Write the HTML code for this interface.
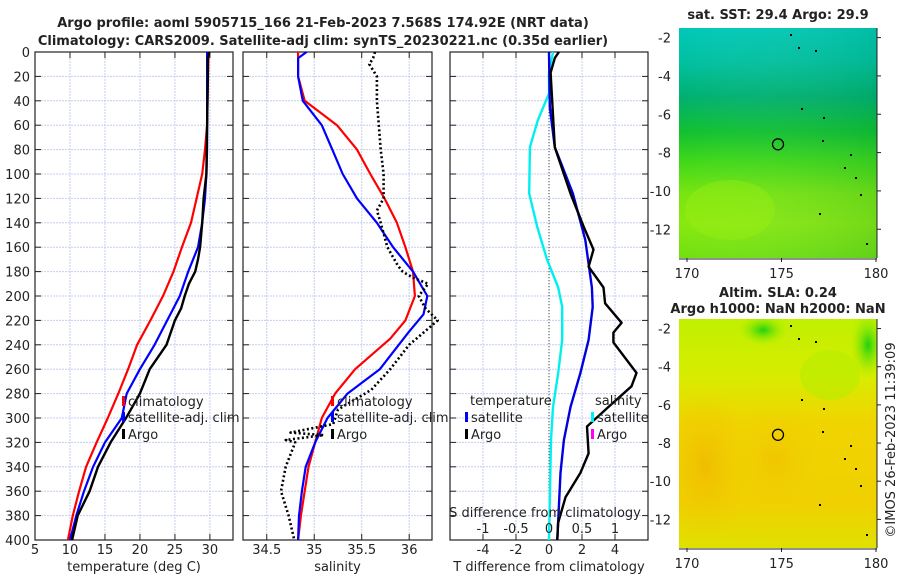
<!DOCTYPE html>
<html><head><meta charset="utf-8"><style>
body{margin:0;background:#fff;}
svg{display:block;font-family:"DejaVu Sans","Liberation Sans",sans-serif;}
</style></head><body>
<svg id="c" width="900" height="580" xmlns="http://www.w3.org/2000/svg">
<defs>
<linearGradient id="sstg" x1="0" y1="0" x2="0" y2="1">
<stop offset="0" stop-color="#00c8b8"/><stop offset="0.15" stop-color="#00c0a0"/><stop offset="0.3" stop-color="#00b070"/><stop offset="0.45" stop-color="#10c030"/><stop offset="0.58" stop-color="#40d818"/><stop offset="0.72" stop-color="#78e410"/><stop offset="0.85" stop-color="#88e810"/><stop offset="1" stop-color="#70e010"/>
</linearGradient>
<linearGradient id="sstg2" x1="0" y1="0" x2="1" y2="0">
<stop offset="0" stop-color="#fff" stop-opacity="0"/><stop offset="1" stop-color="#008040" stop-opacity="0.15"/>
</linearGradient>
<linearGradient id="slag" x1="0" y1="0" x2="0" y2="1">
<stop offset="0" stop-color="#c0f000"/><stop offset="0.25" stop-color="#d8ec00"/><stop offset="0.45" stop-color="#f0d400"/><stop offset="0.8" stop-color="#f0d000"/><stop offset="1" stop-color="#e0e000"/>
</linearGradient>
<radialGradient id="orng" cx="0.5" cy="0.5" r="0.5"><stop offset="0" stop-color="#f0b400"/><stop offset="1" stop-color="#f0c800" stop-opacity="0"/></radialGradient>
<radialGradient id="grn" cx="0.5" cy="0.5" r="0.5"><stop offset="0" stop-color="#20d010"/><stop offset="1" stop-color="#a0f000" stop-opacity="0"/></radialGradient>
<clipPath id="clipTop"><rect x="679" y="28" width="198" height="230"/></clipPath>
<clipPath id="clipBot"><rect x="679" y="319" width="198" height="229"/></clipPath>
</defs>
<g id="root"></g>
</svg>
<script>
// ---- data ----
var depthTicks=[0,20,40,60,80,100,120,140,160,180,200,220,240,260,280,300,320,340,360,380,400];
var tTicks=[5,10,15,20,25,30];
var sTicks=[34.5,35,35.5,36];
var dTTicks=[-4,-2,0,2,4];
var dSTicks=[-1,-0.5,0,0.5,1];
// temperature
var tClimD=[0,60,80,100,120,140,160,180,200,220,240,260,280,300,320,340,360,380,400];
var tClimV=[29.8,29.6,29.3,28.9,28.1,27.3,26.0,24.8,23.3,21.5,19.6,18.3,16.9,15.4,13.8,12.3,11.3,10.4,9.7];
var tSatD=[0,80,100,120,140,160,180,200,220,240,260,280,300,320,340,360,380,400];
var tSatV=[29.6,29.6,29.5,29.3,28.9,28.3,26.9,25.7,23.9,22.1,20.0,18.1,17.4,15.0,13.3,12.0,10.9,10.0];
var tArgoD=[0,5,20,60,100,110,120,140,160,170,180,190,200,210,220,230,240,260,280,290,300,320,340,360,380,400];
var tArgoV=[29.9,29.7,29.7,29.6,29.5,29.3,29.1,28.9,28.6,28.3,27.9,27.0,26.4,25.9,25.0,24.4,23.8,21.4,20.0,19.0,18.0,15.8,14.0,12.8,11.1,10.3];
// salinity
var sClimD=[0,20,40,60,80,100,120,140,160,180,200,220,235,260,280,300,320,340,360,380,400];
var sClimV=[34.83,34.83,34.9,35.24,35.45,35.59,35.74,35.87,35.96,36.04,36.06,35.96,35.8,35.43,35.22,35.08,35.01,34.94,34.9,34.86,34.83];
var sSatD=[0,5,20,40,60,80,100,120,140,160,180,200,215,230,260,280,300,320,340,360,380,400];
var sSatV=[34.92,34.83,34.83,34.88,35.08,35.19,35.3,35.45,35.66,35.83,36.04,36.19,36.15,35.99,35.69,35.35,35.14,35.01,34.91,34.87,34.84,34.83];
var sArgoD=[0,5,10,20,40,80,100,120,130,140,160,175,180,185,190,200,210,220,230,240,260,277,293,305,312,314,318,320,340,360,380,400];
var sArgoV=[35.64,35.62,35.58,35.66,35.66,35.7,35.73,35.73,35.66,35.7,35.77,35.88,35.93,36.04,36.2,36.1,36.17,36.3,36.15,36.0,35.8,35.6,35.25,35.2,34.75,35.1,34.7,34.8,34.7,34.65,34.73,34.79];
// differences
var dTSatD=[0,45,78,116,154,193,209,236,263,291,318,345,386,400];
var dTSatV=[0,0.05,0.35,1.45,2.2,2.6,2.65,2.4,1.9,1.3,0.9,0.7,0.55,0.5];
var dTArgoD=[0,5,17,78,116,143,162,176,193,206,222,230,238,263,274,291,307,329,345,365,386,400];
var dTArgoV=[0.6,0.35,0.1,0.35,1.3,2.1,2.7,2.4,3.3,3.4,4.4,3.9,3.9,5.3,5.0,3.6,2.3,2.4,1.9,1.0,0.55,0.5];
var dSSatD=[0,17,34,56,78,116,143,170,193,209,236,263,291,318,372,400];
var dSSatV=[0.06,0,0,-0.17,-0.29,-0.3,-0.18,-0.03,0.14,0.2,0.2,0.14,0.06,0.03,0.01,0];

// ---- helpers ----
var NS="http://www.w3.org/2000/svg",root=document.getElementById('root');
function mk(t,a,p){var e=document.createElementNS(NS,t);for(var k in a)e.setAttribute(k,a[k]);(p||root).appendChild(e);return e;}
function yD(d){return 52+d*1.22;}
function txt(x,y,s,anchor,size,weight,p){var e=mk('text',{x:x,y:y,'text-anchor':anchor||'middle','font-size':size||13,'font-weight':weight||'normal',fill:'#222'},p);e.textContent=s;return e;}
var panels=[
 {name:'temperature-panel',x0:35,x1:233,v0:5,v1:33.3},
 {name:'salinity-panel',x0:243,x1:432,v0:34.25,v1:36.24},
 {name:'difference-panel',x0:450,x1:648,v0:-6,v1:6}
];
function xs(p,v){return p.x0+(v-p.v0)/(p.v1-p.v0)*(p.x1-p.x0);}
function drawAxes(p,ticks,lbl,yLabels){
 var g=mk('g',{});
 
 
 depthTicks.forEach(function(d){var y=yD(d);
  if(d>0&&d<400){var gl=mk('line',{x1:p.x0,x2:p.x1,y1:y,y2:y,stroke:'#c4cdee','stroke-dasharray':'2,1','stroke-width':1},g);}
  mk('line',{x1:p.x0,x2:p.x0+6,y1:y,y2:y,stroke:'#222'},g);mk('line',{x1:p.x1-6,x2:p.x1,y1:y,y2:y,stroke:'#222'},g);
  if(yLabels){var t=txt(30,y+5,String(d),'end',13,'normal',g);}
 });
 ticks.forEach(function(v){var x=xs(p,v);
  mk('line',{x1:x,x2:x,y1:52,y2:540,stroke:'#c4cdee','stroke-dasharray':'2,1'},g);
  mk('line',{x1:x,x2:x,y1:540,y2:534,stroke:'#222'},g);mk('line',{x1:x,x2:x,y1:52,y2:58,stroke:'#222'},g);
  var t=txt(x,554,String(v),'middle',13,'normal',g);
 });
 var r=mk('rect',{x:p.x0,y:52,width:p.x1-p.x0,height:488,fill:'none',stroke:'#222','stroke-width':1.2},g);
 
 var t=txt((p.x0+p.x1)/2,571,lbl,'middle',13,'normal',g);
 return g;
}
function line(p,D,V,col,w,dash,name,scale){
 var pts=D.map(function(d,i){return xs(p,V[i]*(scale||1)).toFixed(1)+','+yD(d).toFixed(1);}).join(' ');
 var e=mk('polyline',{points:pts,fill:'none',stroke:col,'stroke-width':w,'stroke-linejoin':'round'});
 if(dash)e.setAttribute('stroke-dasharray',dash);
 
 
}
// titles
var t1=txt(323,27,'Argo profile: aoml 5905715_166 21-Feb-2023 7.568S 174.92E (NRT data)','middle',13,'bold');

var t2=txt(323,45,'Climatology: CARS2009. Satellite-adj clim: synTS_20230221.nc (0.35d earlier)','middle',13,'bold');


drawAxes(panels[0],tTicks,'temperature (deg C)',true);
drawAxes(panels[1],sTicks,'salinity',false);
drawAxes(panels[2],dTTicks,'T difference from climatology',false);

line(panels[0],tClimD,tClimV,'#f00',2.2,null,'temp-climatology-line');
line(panels[0],tSatD,tSatV,'#00f',2.2,null,'temp-satellite-line');
line(panels[0],tArgoD,tArgoV,'#000',2.4,null,'temp-argo-line');
line(panels[1],sClimD,sClimV,'#f00',2.2,null,'sal-climatology-line');
line(panels[1],sSatD,sSatV,'#00f',2.2,null,'sal-satellite-line');
line(panels[1],sArgoD,sArgoV,'#000',2.6,'2,2.5','sal-argo-line');
// zero line in diff panel
var z=mk('line',{x1:xs(panels[2],0),x2:xs(panels[2],0),y1:52,y2:540,stroke:'#444','stroke-dasharray':'1,2'});

line(panels[2],dSSatD,dSSatV,'#00f0f0',2.4,null,'sal-diff-satellite-line',4);
line(panels[2],dTSatD,dTSatV,'#0000e0',2.4,null,'temp-diff-satellite-line');
line(panels[2],dTArgoD,dTArgoV,'#000',2.4,null,'temp-diff-argo-line');
// S axis inside diff panel
var sl=txt(545,517,'S difference from climatology','middle',13);

dSTicks.forEach(function(v){var x=xs(panels[2],v*4);var t=txt(x,533,String(v),'middle',13);});

// legends
function leg(x,y,col,label,name){var g=mk('g',{});
 mk('rect',{x:x,y:y-10,width:3,height:10,fill:col},g);txt(x+6,y,label,'start',13,'normal',g);}
leg(122,406,'#f00','climatology','legend-climatology');
leg(122,422,'#00f','satellite-adj. clim','legend-satellite');
leg(122,439,'#000','Argo','legend-argo');
leg(331,406,'#f00','climatology','legend-sal-climatology');
leg(331,422,'#00f','satellite-adj. clim','legend-sal-satellite');
leg(331,439,'#000','Argo','legend-sal-argo');
var lt=txt(470,405,'temperature','start',13);
var ls=txt(595,405,'salinity','start',13);
leg(465,422,'#00f','satellite','legend-t-satellite');
leg(465,439,'#000','Argo','legend-t-argo');
leg(591,422,'#00f0f0','satellite','legend-s-satellite');
leg(591,439,'#f0f','Argo','legend-s-argo');

// maps
function map(y0,y1,fill,name,clip,title,extra){
 var g=mk('g',{});
 var cg=mk('g',{'clip-path':'url(#'+clip+')'},g);
 mk('rect',{x:679,y:y0,width:198,height:y1-y0,fill:fill},cg);
 extra(cg);
 var lat0=-1.5,lat1=-13.5;
 [-2,-4,-6,-8,-10,-12].forEach(function(v){var y=y0+(v-lat0)/(lat1-lat0)*(y1-y0);
  mk('line',{x1:877,x2:881,y1:y,y2:y,stroke:'#222'},g);
  var t=txt(671,y+5,String(v),'end',13,'normal',g);});
 [170,175,180].forEach(function(v){var x=687+(v-170)*18.9;
  mk('line',{x1:x,x2:x,y1:y1,y2:y1+4,stroke:'#222'},g);
  var t=txt(x,y1+20,String(v),'middle',13,'normal',g);});
 mk('line',{x1:679,x2:877,y1:y1+1,y2:y1+1,stroke:'#222'},g);
 mk('line',{x1:877,x2:877,y1:y0,y2:y1,stroke:'#222'},g);
 var c=mk('circle',{cx:778,cy:y0+(-7.568+1.5)/(-12)*(y1-y0),r:5.5,fill:'none',stroke:'#000','stroke-width':1.3},g);
 
 [[790,34],[798,47],[815,50],[801,108],[823,117],[822,140],[850,154],[844,167],[855,177],[860,194],[819,213],[866,243]].forEach(function(q){mk('rect',{x:q[0],y:y0+(q[1]-28),width:2,height:2,fill:'#000'},g);});
 title(g);
}
map(28,258,'url(#sstg)','sst-map','clipTop',function(g){var t=txt(778,19,'sat. SST: 29.4 Argo: 29.9','middle',13,'bold',g);},
 function(g){mk('rect',{x:679,y:28,width:198,height:230,fill:'url(#sstg2)'},g);
  mk('ellipse',{cx:730,cy:210,rx:45,ry:30,fill:'#a0f010',opacity:0.35},g);});
map(319,548,'url(#slag)','sla-map','clipBot',function(g){
  var t=txt(778,297,'Altim. SLA: 0.24','middle',13,'bold',g);
  var t2=txt(778,313,'Argo h1000: NaN h2000: NaN','middle',13,'bold',g);},
 function(g){mk('ellipse',{cx:705,cy:465,rx:45,ry:75,fill:'url(#orng)',opacity:0.7},g);
  mk('ellipse',{cx:775,cy:460,rx:45,ry:55,fill:'url(#orng)',opacity:0.4},g);
  mk('ellipse',{cx:763,cy:330,rx:25,ry:16,fill:'url(#grn)'},g);
  mk('ellipse',{cx:868,cy:345,rx:18,ry:35,fill:'url(#grn)'},g);
  mk('ellipse',{cx:830,cy:375,rx:30,ry:25,fill:'#b0ee00',opacity:0.5},g);});
var cp=mk('text',{x:0,y:0,transform:'translate(895,440) rotate(-90)','text-anchor':'middle','font-size':13,fill:'#222'});
cp.textContent='©IMOS 26-Feb-2023 11:39:09';

</script>
</body></html>
